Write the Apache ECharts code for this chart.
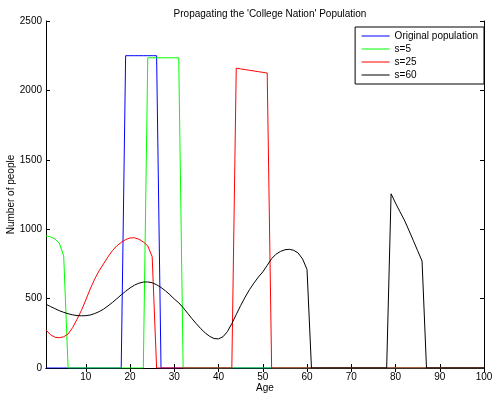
<html>
<head>
    <meta charset="utf-8">
    <title>College Nation</title>
    <script src="https://cdn.jsdelivr.net/npm/echarts@6/dist/echarts.min.js"></script>
    <style>
        html, body { margin: 0; padding: 0; background: #fff; }
    </style>
</head>
<body>
    <div id="chartmain" style="width:495px; height:393px;"></div>

    <script type="text/javascript">
        // ages 1..100
        var ages = [
            1, 2, 3, 4, 5, 6, 7, 8, 9, 10,
            11, 12, 13, 14, 15, 16, 17, 18, 19, 20,
            21, 22, 23, 24, 25, 26, 27, 28, 29, 30,
            31, 32, 33, 34, 35, 36, 37, 38, 39, 40,
            41, 42, 43, 44, 45, 46, 47, 48, 49, 50,
            51, 52, 53, 54, 55, 56, 57, 58, 59, 60,
            61, 62, 63, 64, 65, 66, 67, 68, 69, 70,
            71, 72, 73, 74, 75, 76, 77, 78, 79, 80,
            81, 82, 83, 84, 85, 86, 87, 88, 89, 90,
            91, 92, 93, 94, 95, 96, 97, 98, 99, 100
        ];

        var original = [
            0, 0, 0, 0, 0, 0, 0, 0, 0, 0,
            0, 0, 0, 0, 0, 0, 0, 0, 2250, 2250,
            2250, 2250, 2250, 2250, 2250, 2250, 0, 0, 0, 0,
            0, 0, 0, 0, 0, 0, 0, 0, 0, 0,
            0, 0, 0, 0, 0, 0, 0, 0, 0, 0,
            0, 0, 0, 0, 0, 0, 0, 0, 0, 0,
            0, 0, 0, 0, 0, 0, 0, 0, 0, 0,
            0, 0, 0, 0, 0, 0, 0, 0, 0, 0,
            0, 0, 0, 0, 0, 0, 0, 0, 0, 0,
            0, 0, 0, 0, 0, 0, 0, 0, 0, 0
        ];

        var s5 = [
            951, 945, 930, 900, 807, 0, 0, 0, 0, 0,
            0, 0, 0, 0, 0, 0, 0, 0, 0, 0,
            0, 0, 0, 2235, 2235, 2235, 2235, 2235, 2235, 2235,
            2235, 0, 0, 0, 0, 0, 0, 0, 0, 0,
            0, 0, 0, 0, 0, 0, 0, 0, 0, 0,
            0, 0, 0, 0, 0, 0, 0, 0, 0, 0,
            0, 0, 0, 0, 0, 0, 0, 0, 0, 0,
            0, 0, 0, 0, 0, 0, 0, 0, 0, 0,
            0, 0, 0, 0, 0, 0, 0, 0, 0, 0,
            0, 0, 0, 0, 0, 0, 0, 0, 0, 0
        ];

        var s25 = [
            274, 240, 222, 218, 225, 245, 290, 350, 415, 490,
            570, 640, 700, 750, 800, 845, 880, 905, 925, 937,
            938, 928, 908, 880, 802, 0, 0, 0, 0, 0,
            0, 0, 0, 0, 0, 0, 0, 0, 0, 0,
            0, 0, 0, 2160, 2155, 2150, 2145, 2140, 2135, 2130,
            2125, 0, 0, 0, 0, 0, 0, 0, 0, 0,
            0, 0, 0, 0, 0, 0, 0, 0, 0, 0,
            0, 0, 0, 0, 0, 0, 0, 0, 0, 0,
            0, 0, 0, 0, 0, 0, 0, 0, 0, 0,
            0, 0, 0, 0, 0, 0, 0, 0, 0, 0
        ];

        var s60 = [
            459, 443, 428, 413, 401, 391, 383, 378, 376, 377,
            382, 392, 406, 424, 447, 472, 499, 527, 553, 577,
            597, 611, 619, 620, 614, 600, 580, 556, 528, 497,
            470, 435, 395, 355, 318, 283, 252, 228, 212, 210,
            225, 262, 320, 385, 450, 510, 565, 612, 655, 692,
            740, 788, 820, 840, 852, 855, 848, 828, 785, 710,
            0, 0, 0, 0, 0, 0, 0, 0, 0, 0,
            0, 0, 0, 0, 0, 0, 0, 0, 1255, 1188,
            1126, 1066, 994, 920, 845, 771, 0, 0, 0, 0,
            0, 0, 0, 0, 0, 0, 0, 0, 0, 0
        ];

        var seriesNames = ['Original population', 's=5', 's=25', 's=60'];
        var seriesColors = ['#0000ff', '#00ff00', '#ff0000', '#000000'];
        var xTicks = [10, 20, 30, 40, 50, 60, 70, 80, 90, 100];

        var fontFam = '"Liberation Sans", Arial, Helvetica, sans-serif';

        function pairs(vals) {
            return ages.map(function (a, i) { return [a, vals[i]]; });
        }

        var myChart = echarts.init(document.getElementById('chartmain'));

        var allData = [original, s5, s25, s60];
        var series = allData.map(function (vals, i) {
            return {
                name: seriesNames[i],
                type: 'line',
                symbol: 'none',
                data: pairs(vals),
                lineStyle: { color: seriesColors[i], width: 1 },
                itemStyle: { color: seriesColors[i] }
            };
        });

        var axisLineBlack = { show: true, lineStyle: { color: '#000', width: 1 } };

        myChart.setOption({
            animation: false,
            textStyle: { fontFamily: fontFam },
            title: {
                text: "Propagating the 'College Nation' Population",
                left: 265,
                textAlign: 'center',
                top: 4,
                textStyle: { fontSize: 10, fontWeight: 'normal', color: '#000', fontFamily: fontFam }
            },
            legend: {
                orient: 'vertical',
                right: 11,
                top: 27,
                data: seriesNames,
                itemWidth: 28,
                itemHeight: 12,
                itemGap: 1,
                padding: [3, 6, 3, 6],
                borderColor: '#000',
                borderWidth: 1,
                backgroundColor: '#fff',
                itemStyle: { opacity: 0 },
                lineStyle: { width: 1 },
                textStyle: { fontSize: 10, lineHeight: 12, color: '#000', fontFamily: fontFam }
            },
            grid: { left: 46, right: 11, top: 21, bottom: 25, outerBoundsMode: 'none' },
            xAxis: [
                {
                    type: 'value',
                    min: 1,
                    max: 100,
                    name: 'Age',
                    nameLocation: 'middle',
                    nameGap: 15,
                    nameMoveOverlap: false,
                    nameTextStyle: { fontSize: 10, color: '#000' },
                    axisLine: axisLineBlack,
                    axisTick: { inside: true, length: 4, customValues: xTicks, lineStyle: { color: '#000' } },
                    axisLabel: { customValues: xTicks, fontSize: 10, color: '#000', margin: 4 },
                    splitLine: { show: false }
                },
                {
                    type: 'value',
                    position: 'top',
                    min: 1,
                    max: 100,
                    axisLine: axisLineBlack,
                    axisTick: { inside: true, length: 4, customValues: xTicks, lineStyle: { color: '#000' } },
                    axisLabel: { show: false },
                    splitLine: { show: false }
                }
            ],
            yAxis: [
                {
                    type: 'value',
                    min: 0,
                    max: 2500,
                    interval: 500,
                    name: 'Number of people',
                    nameLocation: 'middle',
                    nameGap: 30,
                    nameMoveOverlap: false,
                    nameTextStyle: { fontSize: 10, color: '#000' },
                    axisLine: axisLineBlack,
                    axisTick: { inside: true, length: 4, lineStyle: { color: '#000' } },
                    axisLabel: {
                        fontSize: 10, color: '#000', margin: 4,
                        formatter: function (v) { return String(v); }
                    },
                    splitLine: { show: false }
                },
                {
                    type: 'value',
                    position: 'right',
                    min: 0,
                    max: 2500,
                    interval: 500,
                    axisLine: axisLineBlack,
                    axisTick: { inside: true, length: 4, lineStyle: { color: '#000' } },
                    axisLabel: { show: false },
                    splitLine: { show: false }
                }
            ],
            series: series
        });
    </script>
</body>
</html>
